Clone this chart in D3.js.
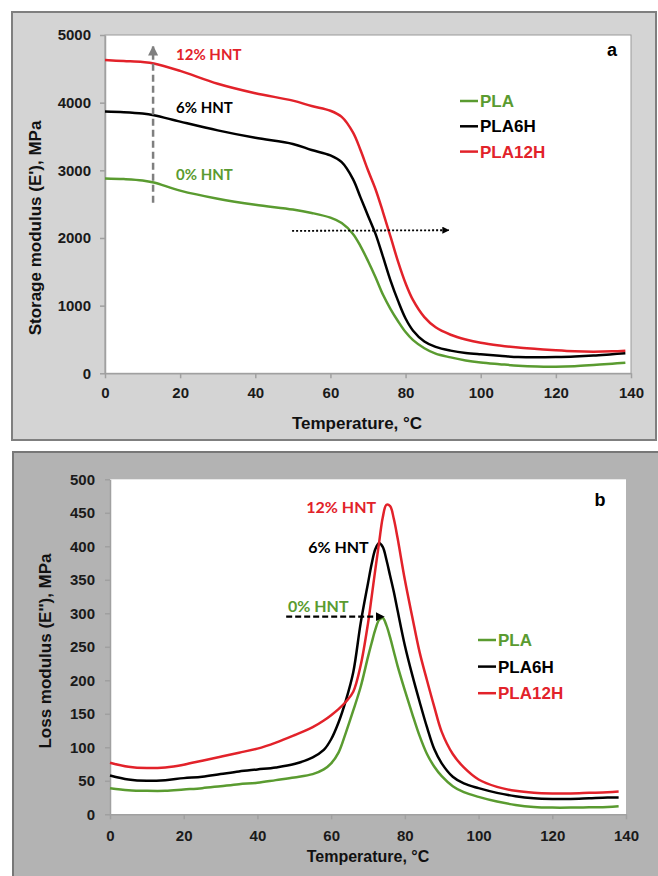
<!DOCTYPE html>
<html lang="en">

<head>
    <meta charset="UTF-8">
    <title>PLA / HNT DMA curves</title>
    <script src="https://cdn.jsdelivr.net/npm/d3@7"></script>
</head>

<body>
    <script>
        // ---- data ----
        const seriesNames = ["PLA", "PLA6H", "PLA12H"];
        const seriesColors = ["#5a9b30", "#000000", "#e2222a"];

        // panel a: storage modulus E' (MPa)
        const tempA = [0, 5, 10, 13, 20, 30, 40, 50, 55, 60, 63, 66, 68, 70, 72, 74, 76, 78, 80, 82, 85, 88, 92, 96, 100, 105, 110, 115, 120, 125, 130, 135, 138.5];
        const storagePLA = [2880, 2870, 2850, 2820, 2700, 2580, 2490, 2420, 2370, 2300, 2220, 2060, 1880, 1660, 1420, 1160, 950, 770, 610, 490, 370, 290, 235, 190, 160, 135, 112, 100, 98, 106, 123, 142, 157];
        const storagePLA6H = [3870, 3860, 3840, 3815, 3720, 3590, 3480, 3390, 3300, 3220, 3120, 2870, 2600, 2330, 2060, 1720, 1370, 1070, 810, 630, 470, 390, 335, 300, 280, 260, 240, 236, 240, 248, 262, 282, 296];
        const storagePLA12H = [4630, 4615, 4600, 4580, 4470, 4280, 4140, 4030, 3950, 3880, 3790, 3560, 3300, 3000, 2720, 2380, 2020, 1650, 1330, 1080, 830, 680, 570, 500, 450, 410, 380, 360, 340, 325, 320, 325, 335];

        // panel b: loss modulus E'' (MPa)
        const tempB = [0, 5, 10, 15, 20, 25, 30, 35, 40, 45, 50, 55, 58, 60, 62, 64, 66, 68, 70, 71, 72, 73, 74, 75, 76, 77, 78, 80, 82, 84, 86, 88, 90, 93, 96, 100, 105, 110, 115, 120, 125, 130, 135, 138];
        const lossPLA = [39, 36, 35, 35, 37, 39, 42, 45, 47, 51, 55, 60, 67, 76, 92, 122, 155, 190, 235, 256, 276, 290, 293, 282, 264, 243, 222, 185, 150, 117, 90, 71, 57, 42, 33, 26, 19, 14, 11, 10, 10, 10.5, 11, 12];
        const lossPLA6H = [58, 52, 50, 51, 54, 56, 60, 64, 67, 70, 75, 85, 96, 112, 137, 170, 212, 285, 345, 374, 396, 405, 399, 380, 356, 332, 305, 252, 208, 168, 130, 97, 76, 56, 46, 39, 32, 27, 24, 23, 23, 24, 25, 25];
        const lossPLA12H = [77, 71, 69, 70, 74, 80, 86, 92, 98, 107, 118, 130, 140, 148, 157, 168, 183, 222, 285, 325, 366, 405, 443, 462, 460, 441, 413, 350, 295, 242, 200, 160, 123, 90, 70, 52, 41, 35, 32, 31, 31, 32, 33, 34];

        const xTicks = [0, 20, 40, 60, 80, 100, 120, 140];
        const yTicksA = [0, 1000, 2000, 3000, 4000, 5000];
        const yTicksB = [0, 50, 100, 150, 200, 250, 300, 350, 400, 450, 500];
        const hntLabels = ["0% HNT", "6% HNT", "12% HNT"];

        const width = 658;
        const height = 876;
        const arial = "'Liberation Sans', Arial, sans-serif";
        const calibri = "Lato, 'Open Sans', sans-serif";

        const svg = d3.select("body").append("svg")
            .attr("width", width)
            .attr("height", height)
            .style("background", "#fff");

        const defs = svg.append("defs");
        function marker(id, color) {
            defs.append("marker")
                .attr("id", id)
                .attr("viewBox", "0 0 10 10")
                .attr("refX", 9).attr("refY", 5)
                .attr("markerWidth", 4).attr("markerHeight", 4)
                .attr("orient", "auto")
                .append("path")
                .attr("d", "M0,0L10,5L0,10Z")
                .attr("fill", color);
        }
        marker("headGray", "#7f7f7f");
        marker("headBlack", "#000");

        // panel backgrounds
        svg.append("rect")
            .attr("x", 12).attr("y", 12).attr("width", 644).attr("height", 428)
            .attr("fill", "#d4d4d4").attr("stroke", "#7f7f7f").attr("stroke-width", 2);
        svg.append("rect")
            .attr("x", 13).attr("y", 452).attr("width", 660).attr("height", 440)
            .attr("fill", "#b3b3b3").attr("stroke", "#777").attr("stroke-width", 2);

        function drawPanel(o) {
            const x = d3.scaleLinear().domain([0, 140]).range([o.left, o.right]);
            const y = d3.scaleLinear().domain(o.yDomain).range([o.bottom, o.top]);
            const g = svg.append("g");

            g.append("rect")
                .attr("x", o.left).attr("y", o.top)
                .attr("width", o.right - o.left).attr("height", o.bottom - o.top)
                .attr("fill", "#fff")
                .attr("stroke", o.frame ? "#9a9a9a" : "none");

            const ax = g.append("g")
                .attr("transform", `translate(0,${o.bottom})`)
                .call(d3.axisBottom(x).tickValues(xTicks).tickFormat(d3.format("d"))
                    .tickSize(5).tickSizeOuter(0).tickPadding(o.xPad));
            const ay = g.append("g")
                .attr("transform", `translate(${o.left},0)`)
                .call(d3.axisLeft(y).tickValues(o.yTicks).tickFormat(d3.format("d"))
                    .tickSize(5).tickSizeOuter(0).tickPadding(o.yPad));
            [ax, ay].forEach(a => {
                a.select(".domain").attr("stroke", "#a0a0a0").attr("stroke-width", 1.5);
                a.selectAll(".tick line").attr("stroke", "#a0a0a0").attr("stroke-width", 1.5);
                a.selectAll("text")
                    .attr("font-family", arial).attr("font-weight", "bold")
                    .attr("font-size", o.tickFont).attr("fill", "#1a1a1a");
            });

            const line = d3.line()
                .x((d, i) => x(o.temps[i]))
                .y(d => y(d))
                .curve(d3.curveCatmullRom.alpha(0.5));
            o.series.forEach((vals, i) => {
                g.append("path")
                    .attr("d", line(vals))
                    .attr("fill", "none")
                    .attr("stroke", seriesColors[i])
                    .attr("stroke-width", 2.5)
                    .attr("stroke-linejoin", "round");
            });

            // legend
            seriesNames.forEach((name, i) => {
                const ly = o.legendY + i * o.legendStep;
                g.append("line")
                    .attr("x1", o.legendX).attr("x2", o.legendX + 18)
                    .attr("y1", ly - 6).attr("y2", ly - 6)
                    .attr("stroke", seriesColors[i]).attr("stroke-width", 2.5);
                g.append("text")
                    .attr("x", o.legendX + 20).attr("y", ly)
                    .attr("font-family", arial).attr("font-weight", "bold")
                    .attr("font-size", 17).attr("fill", seriesColors[i])
                    .text(name);
            });

            g.append("text")
                .attr("x", o.letterX).attr("y", o.letterY)
                .attr("text-anchor", "middle")
                .attr("font-family", arial).attr("font-weight", "bold")
                .attr("font-size", 18).text(o.letter);

            g.append("text")
                .attr("x", o.xTitleX).attr("y", o.xTitleY)
                .attr("text-anchor", "middle")
                .attr("font-family", arial).attr("font-weight", "bold")
                .attr("font-size", o.titleFont).attr("fill", "#111")
                .text("Temperature, °C");
            g.append("text")
                .attr("transform", `translate(${o.yTitleX},${o.yTitleY}) rotate(-90)`)
                .attr("text-anchor", "middle")
                .attr("font-family", arial).attr("font-weight", "bold")
                .attr("font-size", 17).attr("fill", "#111")
                .text(o.yTitle);

            return { g, x, y };
        }

        // ---- panel a ----
        const a = drawPanel({
            left: 105, right: 631, top: 35, bottom: 373.3,
            yDomain: [0, 5000], yTicks: yTicksA, temps: tempA,
            series: [storagePLA, storagePLA6H, storagePLA12H],
            xPad: 9, yPad: 9, tickFont: 15, titleFont: 17,
            legendX: 460, legendY: 107, legendStep: 25.3,
            letter: "a", letterX: 612, letterY: 56,
            xTitleX: 357, xTitleY: 429,
            yTitleX: 41, yTitleY: 228, yTitle: "Storage modulus (E'), MPa",
            frame: true
        });

        a.g.append("line")
            .attr("x1", a.x(12.8)).attr("x2", a.x(12.8))
            .attr("y1", a.y(2520)).attr("y2", a.y(4830))
            .attr("stroke", "#7f7f7f").attr("stroke-width", 2.5)
            .attr("stroke-dasharray", "7,4")
            .attr("marker-end", "url(#headGray)");
        a.g.append("line")
            .attr("x1", a.x(49.8)).attr("x2", a.x(91.5))
            .attr("y1", a.y(2105)).attr("y2", a.y(2115))
            .attr("stroke", "#000").attr("stroke-width", 1.8)
            .attr("stroke-dasharray", "2,2")
            .attr("marker-end", "url(#headBlack)");

        [[18.9, 2860], [18.9, 3850], [18.9, 4635]].forEach((p, i) => {
            a.g.append("text")
                .attr("x", a.x(p[0])).attr("y", a.y(p[1]))
                .attr("font-family", calibri).attr("font-weight", "bold")
                .attr("font-size", 15).attr("fill", seriesColors[i])
                .text(hntLabels[i]);
        });

        // ---- panel b ----
        const b = drawPanel({
            left: 110, right: 626, top: 479.3, bottom: 814.3,
            yDomain: [0, 500], yTicks: yTicksB, temps: tempB,
            series: [lossPLA, lossPLA6H, lossPLA12H],
            xPad: 11, yPad: 10, tickFont: 15, titleFont: 16,
            legendX: 478, legendY: 646, legendStep: 26.6,
            letter: "b", letterX: 600, letterY: 506,
            xTitleX: 368, xTitleY: 862,
            yTitleX: 51, yTitleY: 651, yTitle: "Loss modulus (E''), MPa",
            frame: false
        });

        b.g.append("line")
            .attr("x1", b.x(47.8)).attr("x2", b.x(74.3))
            .attr("y1", b.y(295)).attr("y2", b.y(295))
            .attr("stroke", "#000").attr("stroke-width", 2.2)
            .attr("stroke-dasharray", "6,3")
            .attr("marker-end", "url(#headBlack)");

        [[48.3, 302, "start"], [70.2, 390, "end"], [72.2, 450, "end"]].forEach((p, i) => {
            b.g.append("text")
                .attr("x", b.x(p[0])).attr("y", b.y(p[1]))
                .attr("text-anchor", p[2])
                .attr("font-family", calibri).attr("font-weight", "bold")
                .attr("font-size", 16).attr("fill", seriesColors[i])
                .text(hntLabels[i]);
        });
    </script>
    <style>
        * {
            margin: 0;
            padding: 0;
        }
    </style>
</body>

</html>
